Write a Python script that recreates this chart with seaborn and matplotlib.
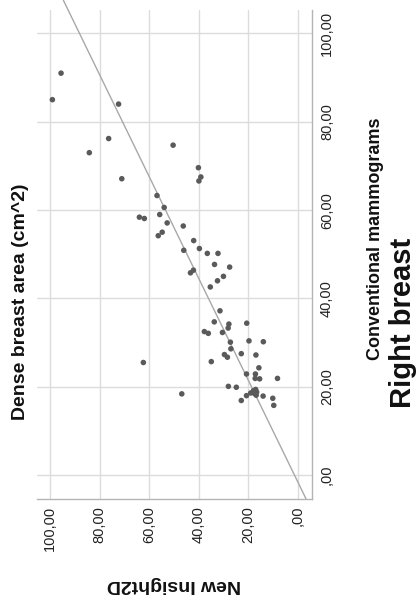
import numpy as np
import pandas as pd
import matplotlib
matplotlib.use("Agg")
import matplotlib.pyplot as plt
import seaborn as sns
from matplotlib.ticker import FuncFormatter

# Data (Conventional mammograms vs New Insight2D), dense breast area cm^2
conventional = [91.0, 85.0, 84.0, 76.2, 73.0, 74.7, 67.1, 69.6, 67.5, 66.6,
                63.3, 60.6, 58.4, 58.1, 59.0, 57.1, 56.4, 55.0, 54.2, 53.1,
                50.9, 51.3, 50.2, 50.2, 47.7, 47.1, 45.8, 46.4, 45.0, 44.0,
                42.6, 37.2, 34.7, 34.2, 33.3, 34.4, 32.5, 32.1, 32.3, 30.1,
                30.4, 30.2, 28.6, 27.5, 27.3, 26.7, 27.2, 25.7, 25.5, 24.3,
                22.9, 22.9, 21.9, 21.8, 21.9, 20.1, 19.9, 18.4, 19.4, 19.1,
                18.8, 18.6, 18.5, 18.1, 18.0, 17.9, 17.4, 16.9, 15.8]
new_insight = [95.6, 99.1, 72.4, 76.4, 84.2, 50.4, 71.1, 40.2, 39.2, 40.0,
               56.9, 54.0, 64.0, 62.0, 55.8, 52.8, 46.3, 54.8, 56.4, 42.1,
               46.1, 39.8, 36.6, 32.3, 33.7, 27.6, 43.4, 42.2, 30.1, 32.5,
               35.4, 31.5, 33.8, 27.9, 28.2, 20.7, 37.8, 36.2, 30.5, 27.3,
               19.8, 14.0, 27.1, 22.9, 29.7, 28.5, 17.0, 35.0, 62.4, 15.8,
               20.8, 17.2, 17.3, 15.5, 8.3, 28.1, 24.9, 46.9, 17.1, 18.0,
               16.7, 19.1, 17.6, 16.9, 20.8, 14.1, 10.2, 22.9, 9.8]
tick_values = [0, 20, 40, 60, 80, 100]

df = pd.DataFrame({"Conventional mammograms": conventional,
                   "New Insight2D": new_insight})

sns.set_style("white")
plt.rcParams["font.family"] = ["Liberation Sans", "DejaVu Sans"]

fig = plt.figure(figsize=(4.18, 6.10), dpi=100)
ax = fig.add_axes([37/418, 1-499/610, (311.7-37)/418, (499-10)/610])

grid_c = "#dcdcdc"
for v in tick_values:
    ax.axvline(v, color=grid_c, lw=1.0, zorder=0)
    ax.axhline(v, color=grid_c, lw=1.0, zorder=0)

# regression line New Insight2D ~ Conventional
slope, intercept = np.polyfit(df["Conventional mammograms"], df["New Insight2D"], 1)
c_range = np.array([-5.4, 107.5])
ax.plot(intercept + slope * c_range, c_range, color="#a8a8a8", lw=1.0, zorder=1,
        clip_on=False)

sns.scatterplot(data=df, x="New Insight2D", y="Conventional mammograms", ax=ax,
                color="#5a5a5a", s=16, edgecolor="none", linewidth=0, zorder=2)

ax.set_xlim(105.3, -5.5)
ax.set_ylim(-5.4, 105.3)

fmt = FuncFormatter(lambda v, p: ",00" if v == 0 else f"{int(v)},00")
ax.set_xticks(tick_values)
ax.set_yticks(tick_values)
ax.xaxis.set_major_formatter(fmt)
ax.yaxis.set_major_formatter(fmt)
ax.yaxis.tick_right()
ax.tick_params(axis="both", length=0, labelsize=10.5, colors="#222222")
ax.tick_params(axis="x", pad=5)
ax.tick_params(axis="y", pad=6)
for lab in ax.get_xticklabels():
    lab.set_rotation(90)
for lab in ax.get_yticklabels():
    lab.set_rotation(90)
    lab.set_va("center")

for side in ["top", "left"]:
    ax.spines[side].set_visible(False)
for side in ["right", "bottom"]:
    ax.spines[side].set_color("#b4b4b4")
    ax.spines[side].set_linewidth(1.0)

ax.set_xlabel("")
ax.set_ylabel("")

fig.text(174/418, 1-585/610, "New Insight2D", rotation=180, ha="center", va="center",
         fontsize=14, fontweight="bold", color="#111111")
fig.text(376/418, 1-239/610, "Conventional mammograms", rotation=90, ha="center", va="center",
         fontsize=13, fontweight="bold", color="#111111")
fig.text(403/418, 1-323/610, "Right breast", rotation=90, ha="center", va="center",
         fontsize=21, fontweight="bold", color="#111111")
fig.text(21/418, 1-302/610, "Dense breast area (cm^2)", rotation=90, ha="center", va="center",
         fontsize=14, fontweight="bold", color="#111111")

fig.savefig("out.png", dpi=100)
